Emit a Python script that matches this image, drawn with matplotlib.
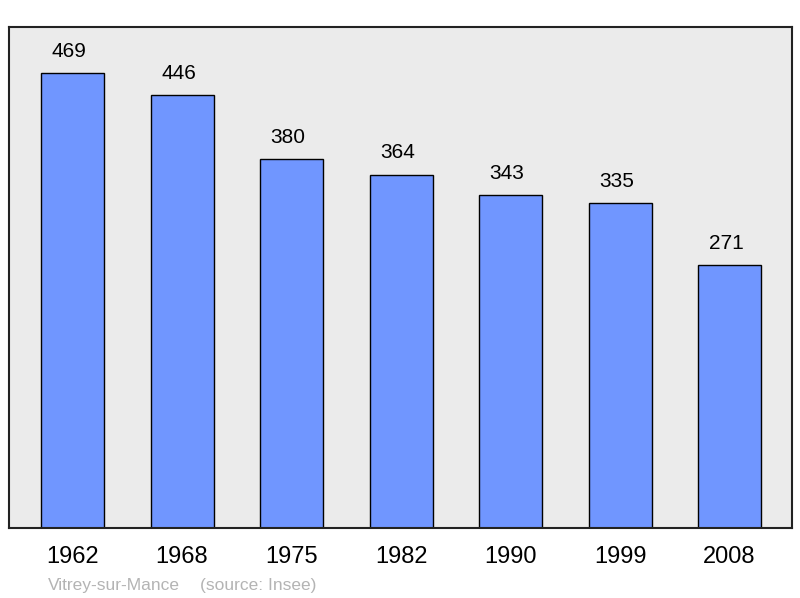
import matplotlib
matplotlib.use("Agg")
import matplotlib.pyplot as plt

years = ["1962", "1968", "1975", "1982", "1990", "1999", "2008"]
population = [469, 446, 380, 364, 343, 335, 271]

plt.rcParams['font.family'] = ['Liberation Sans', 'DejaVu Sans']

fig = plt.figure(figsize=(8, 5.98), dpi=100)
ax = fig.add_axes([9/800, 1-528/598, 783/800, 501/598])
ax.set_facecolor('#ebebeb')
x = list(range(len(years)))
bars = ax.bar(x, population, width=0.575, color='#7096ff', edgecolor='black', linewidth=1.0, zorder=2)
for xi, v in zip(x, population):
    ax.annotate(str(v), (xi, v), xytext=(-2.5, 9), textcoords='offset points',
                ha='center', va='bottom', fontsize=15, color='black')
ax.set_xlim(-0.58, 6.57)
ax.set_ylim(0, 516.5)
ax.set_xticks(x)
ax.set_xticklabels(years, fontsize=17)
ax.tick_params(axis='x', length=0, pad=13)
ax.set_yticks([])
for s in ax.spines.values():
    s.set_linewidth(1.5)
    s.set_color('#222222')
fig.text(48/800, 1-590/598, "Vitrey-sur-Mance", fontsize=12.5, color='#b4b4b4', va='baseline')
fig.text(200/800, 1-590/598, "(source: Insee)", fontsize=12.5, color='#b4b4b4', va='baseline')
fig.savefig("out.png", dpi=100)
